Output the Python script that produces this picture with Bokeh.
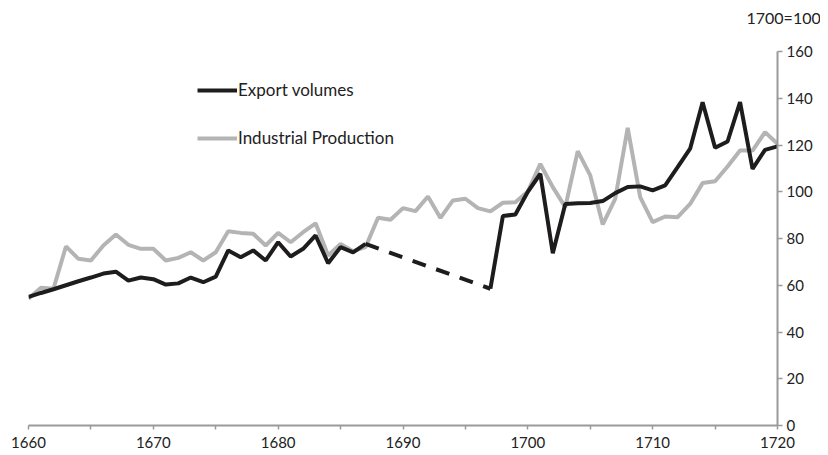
import numpy as np
from bokeh.plotting import figure
from bokeh.models import FixedTicker, LinearAxis, Legend, LegendItem, Range1d, Title
from bokeh.embed import file_html
from bokeh.resources import INLINE

# ---- data ----
years = list(range(1660, 1721))
export_volumes = [
    55.0, 56.7, 58.3, 60.0, 61.7, 63.3, 65.0, 65.8, 62.0, 63.3,
    62.6, 60.3, 60.8, 63.3, 61.3, 63.7, 74.9, 72.0, 74.9, 70.6,
    78.4, 72.3, 75.6, 81.3, 69.4, 76.3, 74.1, 77.7, None, None,
    None, None, None, None, None, None, None, 58.5, 89.6, 90.3,
    100.0, 107.7, 73.7, 94.8, 95.1, 95.2, 96.0, 99.4, 102.0, 102.3,
    100.6, 102.7, 110.5, 118.4, 138.3, 118.8, 121.5, 138.3, 109.8, 117.9,
    119.4,
]
industrial_production = [
    54.2, 58.9, 58.5, 76.6, 71.3, 70.6, 77.0, 81.7, 77.3, 75.6,
    75.6, 70.6, 71.7, 74.1, 70.6, 74.1, 83.1, 82.4, 82.0, 77.0,
    82.4, 78.4, 82.7, 86.5, 72.7, 77.7, 74.6, 76.3, 88.9, 88.0,
    93.0, 91.7, 98.0, 88.8, 96.3, 97.0, 93.0, 91.6, 95.3, 95.5,
    100.1, 111.9, 102.0, 93.4, 117.4, 107.0, 86.0, 97.0, 127.3, 97.7,
    87.0, 89.4, 89.1, 94.8, 103.7, 104.5, 110.8, 117.6, 117.6, 125.5,
    120.5,
]
gap_from, gap_to = 1687, 1697
x_ticks = [1660, 1670, 1680, 1690, 1700, 1710, 1720]
x_minor_ticks = [1665, 1675, 1685, 1695, 1705, 1715]
y_ticks = [0, 20, 40, 60, 80, 100, 120, 140, 160]
series_names = ["Export volumes", "Industrial Production"]
unit_label = "1700=100"

BLACK = "#1e1c1d"
GREY = "#b4b4b4"
AXIS = "#9a9a9a"
TEXT = "#222222"
FONT = "Lato"
FS = "15px"

exp_arr = np.array([np.nan if v is None else v for v in export_volumes], dtype=float)
ind_arr = np.array(industrial_production, dtype=float)
yrs = np.array(years)

p = figure(width=820, height=454, output_backend="svg", toolbar_location=None,
           x_range=Range1d(1660, 1720), y_range=Range1d(0, 160),
           x_axis_location=None, y_axis_location=None,
           min_border_left=28, min_border_top=51, min_border_bottom=29, min_border_right=43)
p.outline_line_color = None
p.xgrid.visible = False
p.ygrid.visible = False
p.background_fill_color = "white"

xaxis = LinearAxis(ticker=FixedTicker(ticks=x_ticks, minor_ticks=x_minor_ticks))
xaxis.axis_line_color = AXIS
xaxis.axis_line_width = 2
xaxis.major_tick_line_color = AXIS
xaxis.major_tick_line_width = 1.5
xaxis.minor_tick_line_color = AXIS
xaxis.minor_tick_line_width = 1.5
xaxis.major_tick_in = 0
xaxis.major_tick_out = 4
xaxis.minor_tick_in = 0
xaxis.minor_tick_out = 4
xaxis.major_label_standoff = 7
xaxis.major_label_text_font = FONT
xaxis.major_label_text_font_size = FS
xaxis.major_label_text_color = TEXT
p.add_layout(xaxis, "below")

yaxis = LinearAxis(ticker=FixedTicker(ticks=y_ticks))
yaxis.axis_line_color = AXIS
yaxis.axis_line_width = 2
yaxis.major_tick_line_color = AXIS
yaxis.major_tick_line_width = 1.5
yaxis.major_tick_in = 0
yaxis.major_tick_out = 5
yaxis.minor_tick_line_color = None
yaxis.major_label_standoff = 4
yaxis.major_label_text_font = FONT
yaxis.major_label_text_font_size = FS
yaxis.major_label_text_color = TEXT
p.add_layout(yaxis, "right")

r_ind = p.line(yrs, ind_arr, line_color=GREY, line_width=4)
r_exp = p.line(yrs, exp_arr, line_color=BLACK, line_width=4)
i0, i1 = years.index(gap_from), years.index(gap_to)
p.line([years[i0], years[i1]], [export_volumes[i0], export_volumes[i1]],
       line_color=BLACK, line_width=4, line_dash="14 11")

legend = Legend(items=[LegendItem(label=series_names[0], renderers=[r_exp]),
                       LegendItem(label=series_names[1], renderers=[r_ind])],
                location=(169, 277), orientation="vertical")
legend.border_line_color = None
legend.background_fill_alpha = 0
legend.padding = 0
legend.margin = 0
legend.spacing = 27
legend.glyph_width = 40
legend.glyph_height = 20
legend.label_height = 20
legend.label_standoff = 1
legend.label_text_font = FONT
legend.label_text_font_size = "17px"
legend.label_text_color = TEXT
legend.label_text_baseline = "middle"
p.add_layout(legend, "center")

# spacer (nearest the frame), then the unit note above it
spacer = Title(text=" ", standoff=11, text_font=FONT, text_font_size="10px")
p.add_layout(spacer, "above")
t = Title(text=unit_label, align="left", offset=718, standoff=0,
          text_font=FONT, text_font_size="16px", text_color=TEXT, text_font_style="normal")
p.add_layout(t, "above")

open("out.html", "w").write(file_html(p, INLINE))
